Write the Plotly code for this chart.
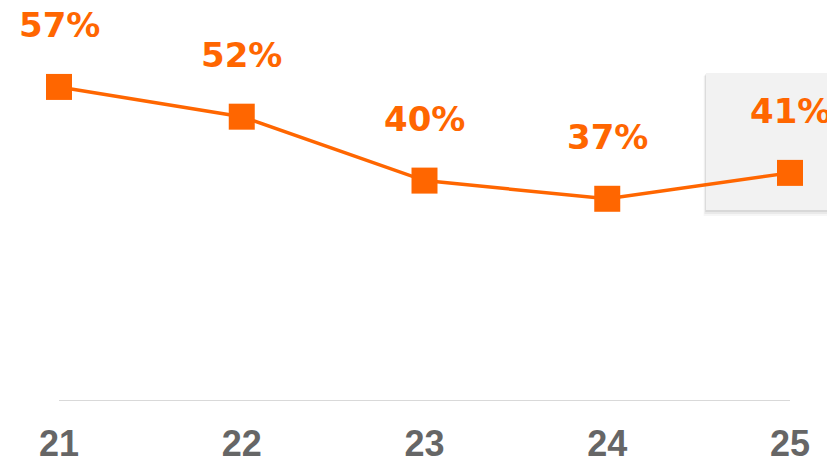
import plotly.graph_objects as go

years = [21, 22, 23, 24, 25]
tick_labels = ["21", "22", "23", "24", "25"]
values = [57.0, 51.6, 40.0, 36.7, 41.4]

ORANGE = "#FF6600"
OFF = 8  # page body margin
W, H = 835 - OFF, 456 - OFF
PLOT_H = 401 - OFF
B = H - PLOT_H
YMAX = PLOT_H / 5.51

fig = go.Figure()
fig.add_trace(go.Scatter(
    x=years, y=values, mode="lines+markers",
    line=dict(color=ORANGE, width=3.5),
    marker=dict(symbol="square", size=26, color=ORANGE),
    cliponaxis=False, hoverinfo="skip", showlegend=False,
))

def py(p):
    return (PLOT_H - (p - OFF)) / PLOT_H

def px(p):
    return (p - OFF) / W

shapes = []
# highlight box shadow
for off, a in [(6, 0.035), (4, 0.05), (2, 0.07)]:
    shapes.append(dict(type="rect", xref="paper", yref="paper",
                       x0=px(706 - off * 0.4), x1=1.05, y0=py(210 + off), y1=py(73 + off * 0.5),
                       fillcolor=f"rgba(0,0,0,{a})", line=dict(width=0), layer="below"))
shapes.append(dict(type="rect", xref="paper", yref="paper",
                   x0=px(706), x1=1.05, y0=py(210), y1=py(73),
                   fillcolor="#F2F2F2", line=dict(width=0), layer="below"))
# baseline
shapes.append(dict(type="line", xref="x", yref="y", x0=years[0], x1=years[-1], y0=0, y1=0,
                   line=dict(color="#D9D9D9", width=2), layer="below"))

annotations = []
for x, v in zip(years, values):
    annotations.append(dict(x=x, y=v, xref="x", yref="y", text=f"{round(v)}%",
                            showarrow=False, yshift=62, yanchor="middle",
                            font=dict(family="DejaVu Sans", size=34, color=ORANGE, weight="bold")))

x_left = 21 - (59 - OFF) / 182.75
x_right = 25 + (W - (790 - OFF)) / 182.75

fig.update_layout(
    width=W, height=H,
    margin=dict(l=0, r=0, t=0, b=B, autoexpand=False),
    paper_bgcolor="white", plot_bgcolor="rgba(0,0,0,0)",
    xaxis=dict(range=[x_left, x_right], tickvals=years, ticktext=tick_labels,
               showgrid=False, zeroline=False, showline=False, ticks="",
               ticklabelstandoff=18, automargin=False,
               tickfont=dict(family="Liberation Sans", size=36, color="#666666", weight="bold")),
    yaxis=dict(range=[0, YMAX], visible=False, showgrid=False, zeroline=False, automargin=False),
    shapes=shapes, annotations=annotations,
)

fig.write_html("out.html")
